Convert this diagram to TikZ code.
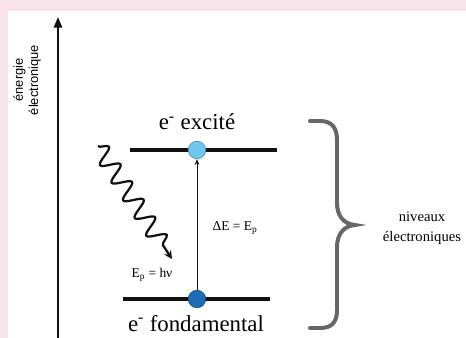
\documentclass[tikz,border=0pt]{standalone}
\usepackage{fontspec}
\setmainfont{Liberation Serif}
\setsansfont{Liberation Sans}
\usepackage{tikz}
\usetikzlibrary{arrows.meta,decorations.pathmorphing}
\definecolor{pinkbg}{HTML}{F9E3EA}
\definecolor{ink}{HTML}{111111}
\definecolor{skyel}{HTML}{6DC7EF}
\definecolor{deepel}{HTML}{1C6CB6}
\definecolor{bracegray}{HTML}{676767}

\begin{document}
\begin{tikzpicture}[x=0.03cm,y=-0.03cm,
  level/.style={ink,line width=2.6pt},
  electron/.style={circle,inner sep=0pt,minimum size=15pt,line width=0.5pt},
  big/.style={font=\fontsize{19.5}{22}\selectfont},
  small/.style={font=\fontsize{11.5}{13}\selectfont}]
  % frame
  \useasboundingbox (0,0) rectangle (466,338);
  \fill[pinkbg] (0,0) rectangle (466,338);
  \fill[white] (8,11) rectangle (466,338);
  % energy axis
  \coordinate (axbot) at (58,338);
  \coordinate (axtop) at (58,17);
  \draw[ink,line width=1.7pt,-{Triangle[length=9pt,width=7pt]}] (axbot) -- (axtop);
  \node[rotate=90,align=center,font=\sffamily\fontsize{11}{13}\selectfont] (axlab) at (27,80) {énergie\\électronique};
  % levels
  \coordinate (exc-w) at (130,150);
  \coordinate (exc-e) at (277,150);
  \coordinate (fond-w) at (123,299);
  \coordinate (fond-e) at (270,299);
  \draw[level] (exc-w) -- (exc-e);
  \draw[level] (fond-w) -- (fond-e);
  \node[electron,fill=skyel,draw=skyel!70!black] (exc) at (197,150) {};
  \node[electron,fill=deepel,draw=deepel!70!black] (fond) at (197,299) {};
  \node[big,anchor=base] (exclab) at (197,130) {e\textsuperscript{-} excité};
  \node[big,anchor=base] (fondlab) at (196,331) {e\textsuperscript{-} fondamental};
  % transition
  \draw[ink,line width=0.8pt,-{Stealth[length=5pt,width=4pt]}] (fond) -- (exc);
  \node[small] (delta) at (235,228) {ΔE = E\textsubscript{p}};
  % photon
  \coordinate (phin) at (98,146);
  \coordinate (phout) at (172,259);
  \draw[ink,line width=1.9pt,-{Stealth[length=7pt,width=7pt]},decorate,
    decoration={snake,amplitude=7.5pt,segment length=18pt,post length=8pt}] (phin) -- (phout);
  \node[small] (photlab) at (152,275) {E\textsubscript{p} = hν};
  % brace
  \draw[bracegray,line width=3.4pt,line cap=round]
    (310,121) -- (320,121) .. controls (332,121) and (337,128) .. (337,140)
    -- (337,203) .. controls (337,215) and (343,224) .. (355,225)
    .. controls (343,226) and (337,235) .. (337,247)
    -- (337,310) .. controls (337,322) and (332,328) .. (320,328) -- (310,328);
  \node[align=center,font=\fontsize{12.5}{17}\selectfont] (levlab) at (422,228) {niveaux\\électroniques};
\end{tikzpicture}
\end{document}
